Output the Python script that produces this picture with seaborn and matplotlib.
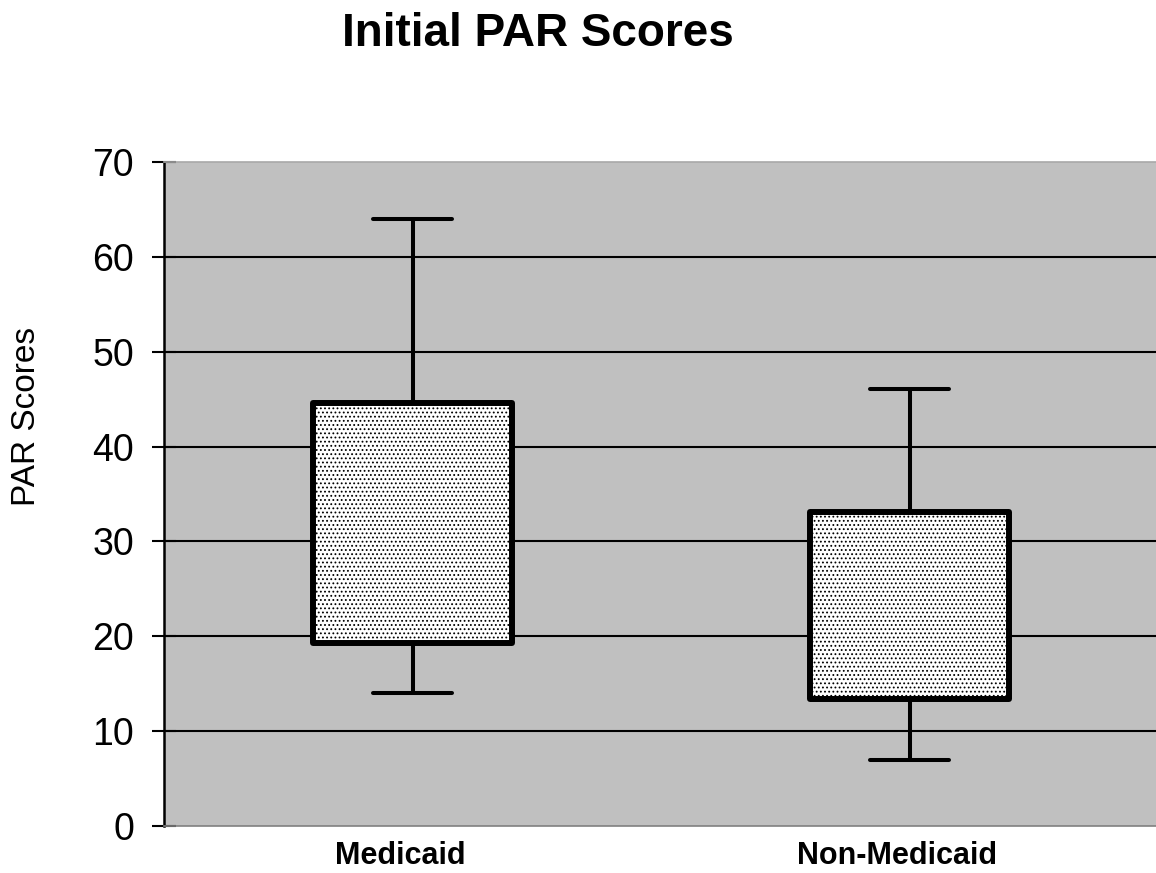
import matplotlib
matplotlib.use("Agg")
import matplotlib.pyplot as plt
import matplotlib.transforms as mtransforms
import seaborn as sns
import pandas as pd

# Five-number summaries (median line is not drawn in the reference)
groups = ["Medicaid", "Non-Medicaid"]
medicaid_vals = [14.0, 19.3, 31.0, 44.6, 64.0]
non_medicaid_vals = [7.0, 13.4, 22.0, 33.1, 46.1]
yticks = [0, 10, 20, 30, 40, 50, 60, 70]

df = pd.DataFrame({
    "group": [groups[0]] * len(medicaid_vals) + [groups[1]] * len(non_medicaid_vals),
    "score": medicaid_vals + non_medicaid_vals,
})

sns.set_theme(style="white")
plt.rcParams["font.family"] = ["Liberation Sans", "DejaVu Sans"]
plt.rcParams["text.color"] = "black"
plt.rcParams["axes.labelcolor"] = "black"
plt.rcParams["xtick.color"] = "black"
plt.rcParams["ytick.color"] = "black"
plt.rcParams["hatch.linewidth"] = 0.8
plt.rcParams["hatch.color"] = "black"

fig = plt.figure(figsize=(11.56, 8.73), dpi=100)
ax = fig.add_axes([164 / 1156, 47 / 873, 994 / 1156, 664 / 873])
ax.set_facecolor("#C0C0C0")

sns.boxplot(
    data=df, x="group", y="score", order=groups, ax=ax,
    whis=(0, 100), width=0.4, color="white", linecolor="black",
    linewidth=4.3, showfliers=False, capwidths=0.16,
    medianprops={"visible": False},
    whiskerprops={"linewidth": 2.9},
    capprops={"linewidth": 2.9},
)
for p in ax.patches:
    p.set_hatch("....")
    p.set_facecolor("white")
    p.set_edgecolor("black")
    p.set_joinstyle("round")

ax.set_xlim(-0.5, 1.5)
ax.set_ylim(0, 70)
ax.set_yticks(yticks)
ax.set_yticklabels([str(t) for t in yticks], fontsize=27)
for y in yticks[1:-1]:
    ax.axhline(y, color="black", linewidth=1.5, zorder=1)

ax.tick_params(axis="y", direction="inout", length=17, width=1.5, color="black",
               labelcolor="black", pad=13, left=True)
ax.tick_params(axis="x", length=0, pad=11, labelcolor="black")
for lbl in ax.get_xticklabels():
    lbl.set_fontsize(22)
    lbl.set_fontweight("bold")
    lbl.set_transform(lbl.get_transform() + mtransforms.ScaledTranslation(-12 / 100, 0, fig.dpi_scale_trans))

ax.set_xlabel("")
ax.set_ylabel("PAR Scores", fontsize=24, color="black")
ax.yaxis.set_label_coords(-0.123, 0.617)

ax.spines["left"].set_color("black")
ax.spines["left"].set_linewidth(1.8)
ax.spines["bottom"].set_color("#808080")
ax.spines["bottom"].set_linewidth(1.2)
ax.spines["top"].set_color("#A8A8A8")
ax.spines["top"].set_linewidth(1.2)
ax.spines["right"].set_visible(False)

fig.text(538 / 1156, 1 - 34 / 873, "Initial PAR Scores", ha="center", va="center",
         fontsize=33, fontweight="bold", color="black")

fig.savefig("out.png", dpi=100, facecolor="white")
